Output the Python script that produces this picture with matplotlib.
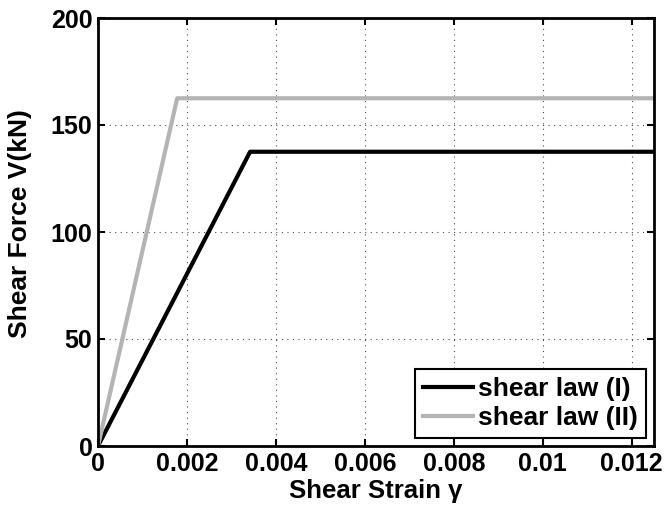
import numpy as np
import matplotlib.pyplot as plt

# shear law data (strain, force in kN)
strain_1 = [0.0, 0.00342, 0.0125]
force_1 = [0.0, 137.5, 137.5]
strain_2 = [0.0, 0.00178, 0.0125]
force_2 = [0.0, 162.5, 162.5]

xticks = [0, 0.002, 0.004, 0.006, 0.008, 0.01, 0.012]
xticklabels = ['0', '0.002', '0.004', '0.006', '0.008', '0.01', '0.012']
yticks = [0, 50, 100, 150, 200]

plt.rcParams['font.family'] = ['Liberation Sans', 'DejaVu Sans']
plt.rcParams['font.weight'] = 'bold'

fig = plt.figure(figsize=(6.68, 5.16), dpi=100)
ax = fig.add_axes([98/668, 1 - 446/516, (654-98)/668, (446-18)/516])

ax.plot(strain_1, force_1, color='black', lw=3, label='shear law (I)')
ax.plot(strain_2, force_2, color='#b4b4b4', lw=3, label='shear law (II)')

ax.set_xlim(0, 0.0125)
ax.set_ylim(0, 200)
ax.set_xticks(xticks)
ax.set_xticklabels(xticklabels)
ax.set_yticks(yticks)
ax.tick_params(direction='in', top=True, right=True, length=5, width=1.5,
               labelsize=18, pad=4)
for s in ax.spines.values():
    s.set_linewidth(2)
ax.grid(True, linestyle=(0, (1, 4)), color='black', linewidth=0.8, alpha=0.7)

ax.set_xlabel('Shear Strain γ', fontsize=18.5, fontweight='bold')
ax.set_ylabel('Shear Force V(kN)', fontsize=19, fontweight='bold')
ax.xaxis.set_label_coords(0.5, -0.078)
ax.yaxis.set_label_coords(-0.118, 0.52)

leg = ax.legend(loc='lower right', fontsize=19, fancybox=False, framealpha=1,
                edgecolor='black', handlelength=1.9, borderaxespad=0.3,
                handletextpad=0.2, borderpad=0.3, labelspacing=0.2)
leg.get_frame().set_linewidth(1.5)
for t in leg.get_texts():
    t.set_fontweight('bold')

fig.savefig('out.png', dpi=100)
